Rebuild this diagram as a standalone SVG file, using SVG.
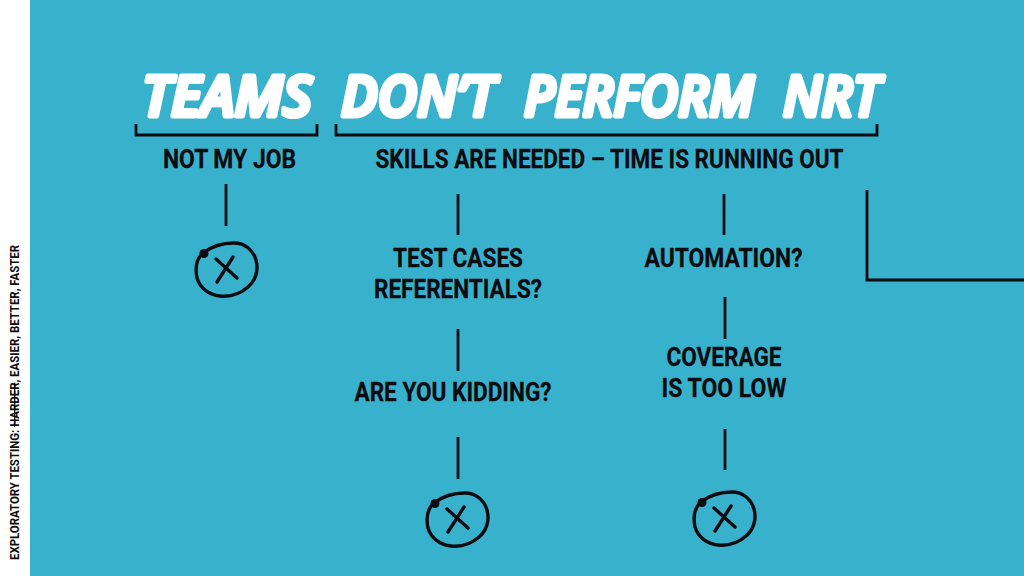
<svg xmlns="http://www.w3.org/2000/svg" width="1024" height="576" viewBox="0 0 1024 576">
<style>
.b{font-family:Roboto,"Liberation Sans",sans-serif;font-weight:700;font-size:26px;fill:#0b0b0f;stroke:#0b0b0f;stroke-width:.3px;text-anchor:middle}
.t{font-family:"Open Sans","Liberation Sans",sans-serif;font-weight:600;font-style:italic;font-size:56px;fill:#fff;stroke:#fff;stroke-width:5px;stroke-linejoin:round;stroke-linecap:round}
.l{fill:none;stroke:#0b0b0f;stroke-width:2.800px}
.c{fill:none;stroke:#0b0b0f;stroke-width:3.400px;stroke-linecap:round;stroke-linejoin:round}
</style>
<defs>
<g id="nope">
<path class="c" d="M-23-17C-14-24-3-27 8-27C19-27 27-20 30-10C33 1 29 11 22 17C14 24 4 27-6 26C-17 25-26 18-29 8C-31-2-30-11-23-17Z"/>
<circle cx="-22" cy="-16.500" r="4.500" fill="#0b0b0f"/>
<path class="c" d="M-10-11L11 8M7-13L-9 12"/>
</g>
</defs>
<rect width="1024" height="576" fill="#fff"/>
<rect x="30" width="994" height="576" fill="#38b2cc"/>
<g id="sidebar">
<text transform="translate(19 560) rotate(-90)" textLength="315" lengthAdjust="spacingAndGlyphs" style="font-family:Roboto,'Liberation Sans',sans-serif;font-weight:700;font-size:13.500px;fill:#0b0b0f">EXPLORATORY TESTING: <tspan text-decoration="line-through">HARDER</tspan>, EASIER, BETTER, FASTER</text>
</g>
<g id="title">
<text class="t" x="142" y="116" textLength="170" lengthAdjust="spacingAndGlyphs">TEAMS</text>
<text class="t" x="341" y="116" textLength="154" lengthAdjust="spacingAndGlyphs">DON’T</text>
<text class="t" x="524" y="116" textLength="230" lengthAdjust="spacingAndGlyphs">PERFORM</text>
<text class="t" x="783" y="116" textLength="97" lengthAdjust="spacingAndGlyphs">NRT</text>
</g>
<g id="connectors">
<path class="l" d="M136 124V135H317V124"/>
<path class="l" d="M336 124V135H877V124"/>
<path class="l" d="M226 184V226"/>
<path class="l" d="M458 194V235"/>
<path class="l" d="M724 194V235"/>
<path class="l" d="M458 329V371"/>
<path class="l" d="M725 297V339"/>
<path class="l" d="M458 437V479"/>
<path class="l" d="M725 429V470"/>
<path class="l" d="M867 190V280H1024"/>
</g>
<g id="not-my-job"><text class="b" x="229.500" y="168" textLength="133" lengthAdjust="spacingAndGlyphs">NOT MY JOB</text></g>
<g id="skills"><text class="b" x="609.500" y="168" textLength="468" lengthAdjust="spacingAndGlyphs">SKILLS ARE NEEDED – TIME IS RUNNING OUT</text></g>
<g id="test-cases">
<text class="b" x="458" y="267" textLength="130" lengthAdjust="spacingAndGlyphs">TEST CASES</text>
<text class="b" x="458" y="298" textLength="168" lengthAdjust="spacingAndGlyphs">REFERENTIALS?</text>
</g>
<g id="automation"><text class="b" x="723.500" y="267" textLength="158" lengthAdjust="spacingAndGlyphs">AUTOMATION?</text></g>
<g id="kidding"><text class="b" x="453" y="401" textLength="197" lengthAdjust="spacingAndGlyphs">ARE YOU KIDDING?</text></g>
<g id="coverage">
<text class="b" x="724" y="366" textLength="115" lengthAdjust="spacingAndGlyphs">COVERAGE</text>
<text class="b" x="724" y="397" textLength="125" lengthAdjust="spacingAndGlyphs">IS TOO LOW</text>
</g>
<g id="x1"><use href="#nope" x="226" y="270"/></g>
<g id="x2"><use href="#nope" x="457" y="520"/></g>
<g id="x3"><use href="#nope" x="724" y="519"/></g>
</svg>
